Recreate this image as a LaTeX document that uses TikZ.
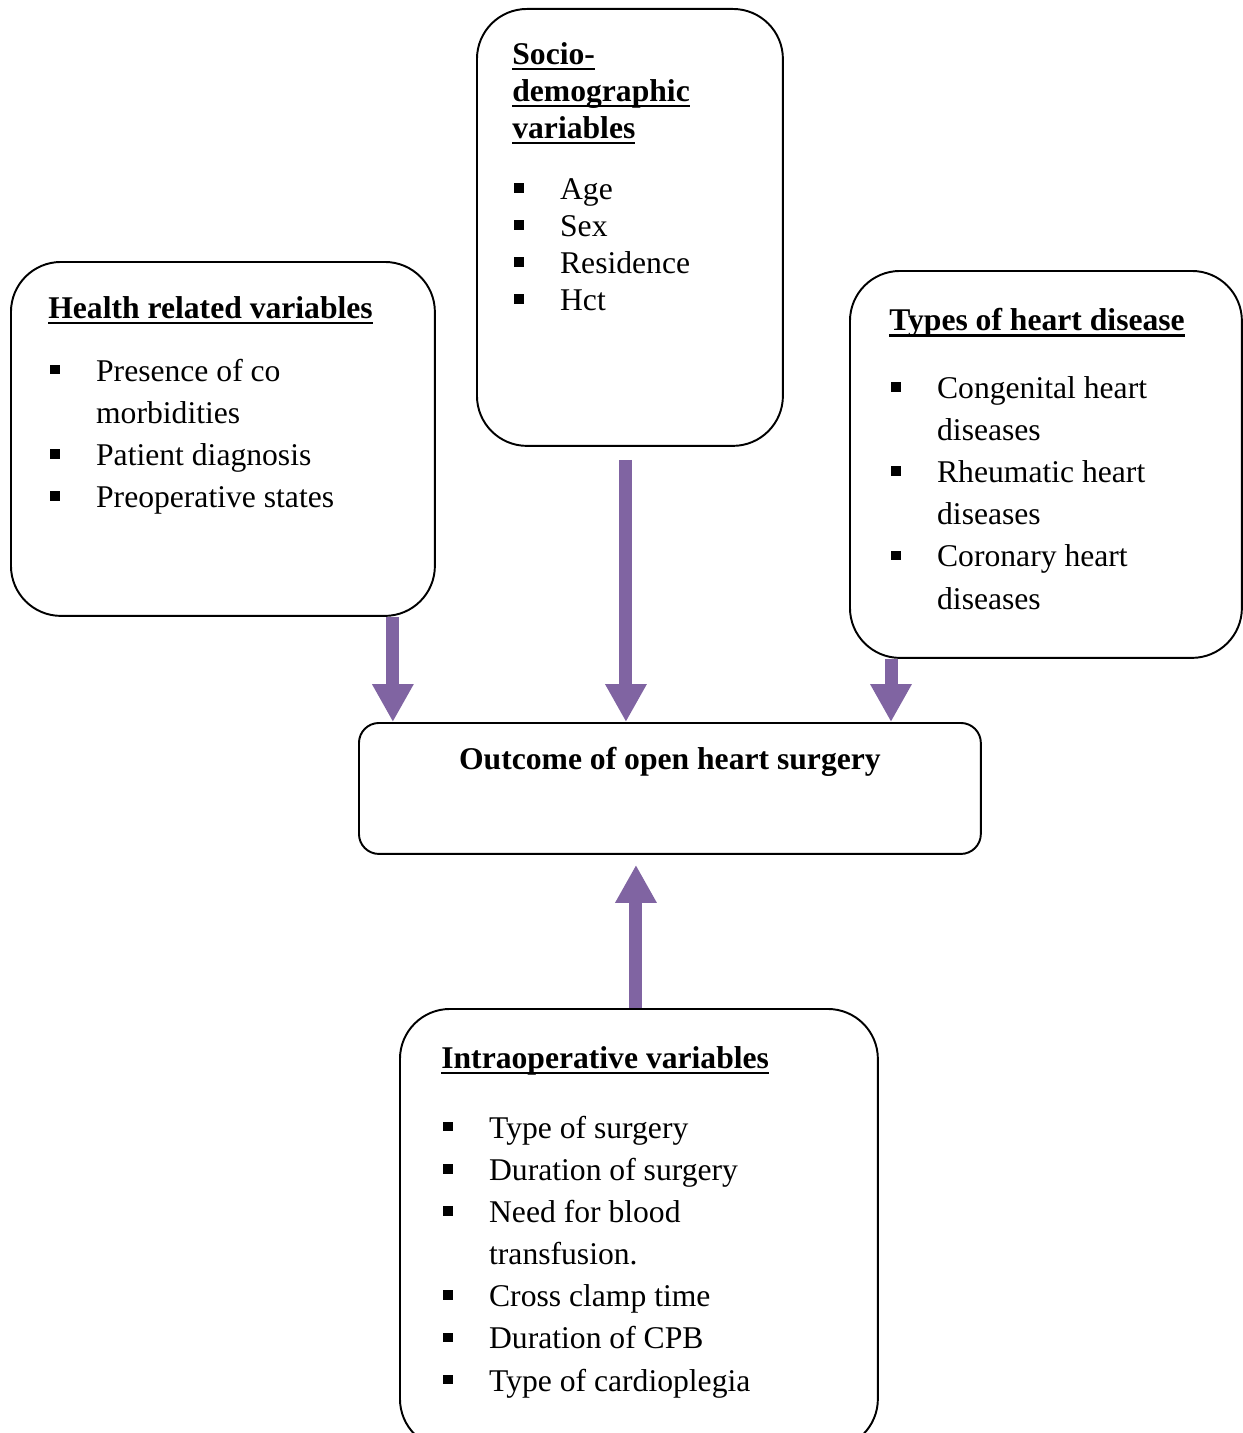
\documentclass[tikz,border=0pt]{standalone}
\usepackage{fontspec}
\setmainfont{Liberation Serif}
\usepackage{tikz}
\usetikzlibrary{arrows.meta}
\definecolor{arrowPurple}{HTML}{8064A2}

\newsavebox\hdbox
\newcommand{\hd}[1]{\sbox\hdbox{\bfseries #1}\rlap{\rule[-3.4pt]{\wd\hdbox}{1.4pt}}\usebox\hdbox}
\newcommand{\bl}{\hspace{1pt}\makebox[26.2pt][l]{\raisebox{3.8pt}{\rule{5.5pt}{5.5pt}}}}
\newcommand{\ind}{\hspace{27.2pt}}

\begin{document}
\begin{tikzpicture}[
    x=0.02cm, y=-0.02cm,
    box/.style={rectangle, draw=black, line width=1.1pt, rounded corners=1cm, anchor=north west, inner sep=0pt},
    listtext/.style={anchor=north west, inner sep=0pt, align=left, font=\fontsize{18}{24}\selectfont},
    bigarrow/.style={-{Triangle[width=0.78cm, length=0.76cm]}, line width=0.26cm, color=arrowPurple}
]
\useasboundingbox (0,0) rectangle (1242,1433);

\node[box, minimum width=6.12cm, minimum height=8.74cm] (socio) at (476,8) {};
\node[box, minimum width=8.48cm, minimum height=7.08cm] (health) at (10,261) {};
\node[box, minimum width=7.84cm, minimum height=7.74cm] (types) at (849,270) {};
\node[box, rounded corners=0.4cm, minimum width=12.44cm, minimum height=2.62cm] (outcome) at (358,722) {};
\node[box, minimum width=9.56cm, minimum height=8.8cm] (intra) at (399,1008) {};

\node[listtext, font=\fontsize{18}{21}\selectfont] (sociotext) at (512,42) {%
    \hd{Socio-}\\ \hd{demographic}\\ \hd{variables}\\[14pt]
    \bl Age\\ \bl Sex\\ \bl Residence\\ \bl Hct};
\node[listtext] (healthtext) at (48,296) {%
    \hd{Health related variables}\\[11.7pt]
    \bl Presence of co\\ \ind morbidities\\ \bl Patient diagnosis\\ \bl Preoperative states};
\node[listtext] (typestext) at (889,308) {%
    \hd{Types of heart disease}\\[14.5pt]
    \bl Congenital heart\\ \ind diseases\\ \bl Rheumatic heart\\ \ind diseases\\
    \bl Coronary heart\\ \ind diseases};
\node[listtext] (intratext) at (441,1046) {%
    \hd{Intraoperative variables}\\[15.7pt]
    \bl Type of surgery\\ \bl Duration of surgery\\ \bl Need for blood\\ \ind transfusion.\\
    \bl Cross clamp time\\ \bl Duration of CPB\\ \bl Type of cardioplegia};
\node[anchor=north, inner sep=0pt, font=\fontsize{18}{24}\selectfont\bfseries] (outcometext)
    at ([yshift=-0.5cm]outcome.north) {Outcome of open heart surgery};

\coordinate (healthout) at ([xshift=-0.86cm]health.south east);
\coordinate (socioout) at ([xshift=-0.08cm, yshift=-0.26cm]socio.south);
\coordinate (typesout) at ([xshift=0.84cm]types.south west);
\coordinate (intraout) at ([xshift=4.74cm]intra.north west);

\draw[bigarrow] (healthout) -- (healthout |- outcome.north);
\draw[bigarrow] (socioout) -- (socioout |- outcome.north);
\draw[bigarrow] (typesout) -- (typesout |- outcome.north);
\draw[bigarrow] (intraout) -- ([yshift=-0.2cm]intraout |- outcome.south);

\end{tikzpicture}
\end{document}
